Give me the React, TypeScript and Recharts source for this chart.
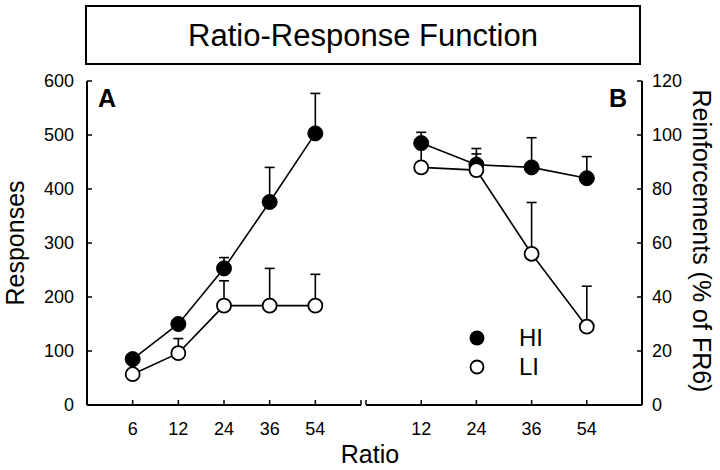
import { ComposedChart, Line, XAxis, YAxis, ErrorBar } from 'recharts'

const FONT = '"Liberation Sans", Arial, Helvetica, sans-serif'

// ---- Panel A: responses per ratio ----
const leftRatios = ['6', '12', '24', '36', '54']
const leftHi = [85, 150, 253, 376, 503]
const leftHiErr = [0, 0, 20, 64, 74]
const leftLi = [57, 96, 184, 184, 184]
const leftLiErr = [0, 27, 46, 69, 58]
const leftYTicks = [0, 100, 200, 300, 400, 500, 600]

// ---- Panel B: reinforcements (% of FR6) ----
const rightRatios = ['12', '24', '36', '54']
const rightHi = [97, 89, 88, 84]
const rightHiErr = [4, 6, 11, 8]
const rightLi = [88, 87, 56, 29]
const rightLiErr = [8, 6, 19, 15]
const rightYTicks = [0, 20, 40, 60, 80, 100, 120]

const leftData = leftRatios.map((r, i) => ({
  pos: i + 1,
  ratio: r,
  hi: leftHi[i],
  hiErr: [0, leftHiErr[i]],
  li: leftLi[i],
  liErr: [0, leftLiErr[i]],
}))

const rightData = rightRatios.map((r, i) => ({
  pos: i + 1,
  ratio: r,
  hi: rightHi[i],
  hiErr: [0, rightHiErr[i]],
  li: rightLi[i],
  liErr: [0, rightLiErr[i]],
}))

const axisLine = { stroke: '#000', strokeWidth: 2 }
const tickLine = { stroke: '#000', strokeWidth: 1.5 }
const tickStyle = { fill: '#000', fontSize: 18, fontFamily: FONT }

const hiDot = { r: 7.5, fill: '#000', stroke: '#000', strokeWidth: 1 }
const liDot = { r: 7, fill: '#fff', stroke: '#000', strokeWidth: 1.8 }

function Series() {
  return [
    <Line
      key="hi"
      dataKey="hi"
      stroke="#000"
      strokeWidth={1.6}
      dot={hiDot}
      activeDot={false}
      isAnimationActive={false}
    >
      <ErrorBar dataKey="hiErr" width={5} stroke="#000" strokeWidth={1.6} />
    </Line>,
    <Line
      key="li"
      dataKey="li"
      stroke="#000"
      strokeWidth={1.6}
      dot={liDot}
      activeDot={false}
      isAnimationActive={false}
    >
      <ErrorBar dataKey="liErr" width={5} stroke="#000" strokeWidth={1.6} />
    </Line>,
  ]
}

function LeftPanel() {
  return (
    <ComposedChart
      width={370}
      height={470}
      data={leftData}
      margin={{ top: 81, right: 9, bottom: 35, left: 27 }}
    >
      <XAxis
        dataKey="pos"
        type="number"
        domain={[0, 6]}
        ticks={[1, 2, 3, 4, 5, 6]}
        tickFormatter={(v: number) => leftRatios[v - 1] ?? ''}
        axisLine={axisLine}
        tickLine={tickLine}
        tickSize={-5}
        tickMargin={22}
        tick={tickStyle}
        height={30}
        interval={0}
      />
      <YAxis
        type="number"
        domain={[0, 600]}
        ticks={leftYTicks}
        axisLine={axisLine}
        tickLine={tickLine}
        tickSize={-5}
        tickMargin={18}
        tick={tickStyle}
        width={60}
        interval={0}
      />
      {Series()}
    </ComposedChart>
  )
}

function RightPanel() {
  return (
    <ComposedChart
      width={360}
      height={470}
      data={rightData}
      margin={{ top: 81, right: 0, bottom: 35, left: 6 }}
    >
      <XAxis
        dataKey="pos"
        type="number"
        domain={[0, 5]}
        ticks={[0, 1, 2, 3, 4]}
        tickFormatter={(v: number) => rightRatios[v - 1] ?? ''}
        axisLine={axisLine}
        tickLine={tickLine}
        tickSize={-5}
        tickMargin={22}
        tick={tickStyle}
        height={30}
        interval={0}
      />
      <YAxis
        orientation="right"
        type="number"
        domain={[0, 120]}
        ticks={rightYTicks}
        axisLine={axisLine}
        tickLine={tickLine}
        tickSize={-5}
        tickMargin={15}
        tick={tickStyle}
        width={78}
        interval={0}
      />
      {Series()}
    </ComposedChart>
  )
}

const abs = (style: React.CSSProperties): React.CSSProperties => ({
  position: 'absolute',
  fontFamily: FONT,
  color: '#000',
  lineHeight: 1,
  whiteSpace: 'nowrap',
  ...style,
})

export default function App() {
  return (
    <div
      style={{
        position: 'absolute',
        left: 0,
        top: 0,
        width: 720,
        height: 470,
        background: '#fff',
        fontFamily: FONT,
      }}
    >
      <div style={{ position: 'absolute', left: 0, top: 0 }}>
        <LeftPanel />
      </div>
      <div style={{ position: 'absolute', left: 360, top: 0 }}>
        <RightPanel />
      </div>

      {/* title box */}
      <div
        style={abs({
          left: 85,
          top: 5,
          width: 556,
          height: 60,
          boxSizing: 'border-box',
          border: '2px solid #000',
          display: 'flex',
          alignItems: 'center',
          justifyContent: 'center',
          fontSize: 31,
        })}
      >
        Ratio-Response Function
      </div>

      {/* panel letters */}
      <div style={abs({ left: 98, top: 86, fontSize: 25, fontWeight: 'bold' })}>A</div>
      <div style={abs({ left: 609, top: 86, fontSize: 25, fontWeight: 'bold' })}>B</div>

      {/* axis titles */}
      <div
        style={abs({
          left: 15,
          top: 243,
          fontSize: 25,
          transform: 'translate(-50%, -50%) rotate(-90deg)',
        })}
      >
        Responses
      </div>
      <div
        style={abs({
          left: 701,
          top: 241,
          fontSize: 25,
          transform: 'translate(-50%, -50%) rotate(90deg)',
        })}
      >
        Reinforcements (% of FR6)
      </div>
      <div style={abs({ left: 370, top: 454, fontSize: 25, transform: 'translate(-50%, -50%)' })}>
        Ratio
      </div>

      {/* legend */}
      <svg style={{ position: 'absolute', left: 466, top: 326 }} width={24} height={54}>
        <circle cx={11} cy={12} r={7.5} fill="#000" />
        <circle cx={11} cy={41} r={6.5} fill="#fff" stroke="#000" strokeWidth={1.8} />
      </svg>
      <div style={abs({ left: 519, top: 338, fontSize: 24, transform: 'translateY(-50%)' })}>HI</div>
      <div style={abs({ left: 519, top: 367, fontSize: 24, transform: 'translateY(-50%)' })}>LI</div>
    </div>
  )
}
